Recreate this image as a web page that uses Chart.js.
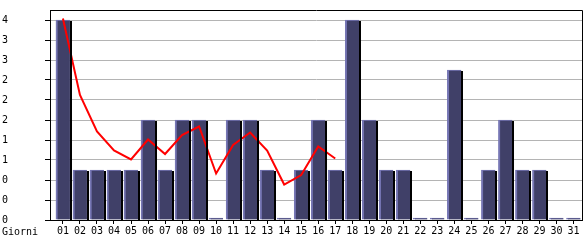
<!DOCTYPE html>
<html>
<head>
<meta charset="utf-8">
<script src="https://cdn.jsdelivr.net/npm/chart.js@4/dist/chart.umd.min.js"></script>
<style>
  html, body { margin: 0; padding: 0; background: #fff; }
  #wrap { width: 585px; height: 240px; }
</style>
</head>
<body>
<div id="wrap"><canvas id="chart" width="585" height="240"></canvas></div>
<script>
const days = [1,2,3,4,5,6,7,8,9,10,11,12,13,14,15,16,17,18,19,20,21,22,23,24,25,26,27,28,29,30,31]
const visits = [4,1,1,1,1,2,1,2,2,0,2,2,1,0,1,2,1,4,2,1,1,0,0,3,0,1,2,1,1,0,0]
const trend = [4.03,2.5,1.77,1.39,1.21,1.61,1.32,1.7,1.87,0.93,1.5,1.75,1.39,0.71,0.9,1.47,1.23]
const xLabel = 'Giorni'

const FONT = { family: 'DejaVu Sans Mono', size: 10 }

// shadow on the right of each bar, frame around plot, "Giorni" label
const decor = {
  id: 'decor',
  afterDatasetsDraw(chart) {
    const ctx = chart.ctx
    const meta = chart.getDatasetMeta(1)
    ctx.save()
    ctx.fillStyle = '#000'
    meta.data.forEach((el, i) => {
      if (!visits[i]) return
      const p = el.getProps(['x', 'y', 'base', 'width'], true)
      ctx.fillRect(Math.round(p.x + p.width / 2), Math.round(p.y + 1), 2, Math.round(p.base - p.y - 1))
    })
    ctx.restore()
  },
  afterDraw(chart) {
    const ctx = chart.ctx
    const a = chart.chartArea
    ctx.save()
    ctx.strokeStyle = '#000'
    ctx.lineWidth = 1
    ctx.beginPath()
    ctx.moveTo(Math.round(a.left) + 0.5, Math.round(a.top) + 0.5)
    ctx.lineTo(Math.round(a.right) + 0.5, Math.round(a.top) + 0.5)
    ctx.lineTo(Math.round(a.right) + 0.5, Math.round(a.bottom) + 0.5)
    ctx.stroke()
    ctx.fillStyle = '#000'
    ctx.font = FONT.size + 'px ' + FONT.family
    ctx.textBaseline = 'middle'
    ctx.fillText(xLabel, 2, 232)
    ctx.restore()
  }
}

new Chart(document.getElementById('chart').getContext('2d'), {
  type: 'bar',
  data: {
    datasets: [
      {
        type: 'line',
        data: trend.map((v, i) => ({ x: days[i], y: v })),
        borderColor: '#ff0000',
        borderWidth: 2,
        pointRadius: 0,
        tension: 0,
        fill: false
      },
      {
        type: 'bar',
        data: visits.map((v, i) => ({ x: days[i], y: v })),
        backgroundColor: '#404068',
        borderColor: '#7676b4',
        borderWidth: { left: 2, top: 1, right: 0, bottom: 0 },
        borderSkipped: false,
        barThickness: 14,
        minBarLength: 2
      }
    ]
  },
  options: {
    responsive: false,
    animation: false,
    layout: { padding: { top: 10, right: 3, left: 2, bottom: 0 } },
    plugins: { legend: { display: false }, tooltip: { enabled: false } },
    scales: {
      x: {
        type: 'linear',
        offset: false,
        min: 0.24,
        max: 31.5,
        afterBuildTicks: s => { s.ticks = days.map(d => ({ value: d })) },
        afterFit: s => { s.height = 20 },
        ticks: {
          color: '#000',
          font: FONT,
          padding: 1,
          maxRotation: 0,
          autoSkip: false,
          callback: v => String(v).padStart(2, '0')
        },
        grid: { offset: false, drawOnChartArea: false, drawTicks: true, tickLength: 4, tickColor: '#000' },
        border: { display: true, color: '#000', width: 1 }
      },
      y: {
        min: 0,
        max: 4.2,
        afterBuildTicks: s => {
          const t = []
          for (let i = 0; i <= 10; i++) t.push({ value: i * 0.4 })
          s.ticks = t
        },
        afterFit: s => { s.width = 48 },
        ticks: {
          color: '#000',
          font: FONT,
          crossAlign: 'far',
          callback: v => String(Math.floor(v + 1e-9))
        },
        grid: { color: '#b4b4b4', tickColor: '#000', tickLength: 5, drawTicks: true },
        border: { display: true, color: '#000', width: 1 }
      }
    }
  },
  plugins: [decor]
})
</script>
</body>
</html>
